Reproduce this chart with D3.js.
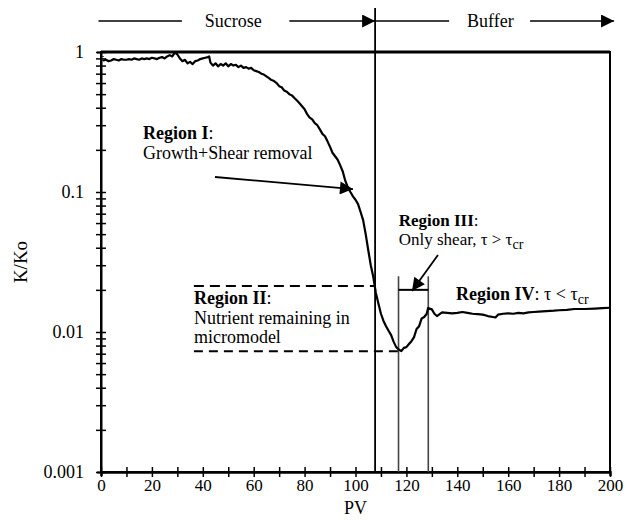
<!DOCTYPE html>
<html>
<head>
<meta charset="utf-8">
<script src="https://cdn.jsdelivr.net/npm/d3@7"></script>
<style>
  body { margin: 0; background: #fff; }
  svg text { font-family: "Liberation Serif", "Times New Roman", serif; fill: #000; }
</style>
</head>
<body>
<div id="chart"></div>
<script>
// ---- data ----
var pv = [0.8, 1, 2, 3, 4, 5, 6, 7, 8, 9, 10, 11, 12, 13, 14, 15, 16, 17, 18, 19, 20,
  21, 22, 23, 24, 25, 26, 27, 28, 29, 30, 31, 32, 33, 34, 35, 36, 37, 38, 39, 40,
  41, 42, 42.5, 43, 44, 45, 46, 47, 48, 49, 50, 51, 52, 53, 54, 55, 56, 57, 58, 59, 60,
  61, 62, 63, 64, 65, 66, 67, 68, 69, 70, 71, 72, 73, 74, 75, 76, 77, 78, 79, 80,
  81, 82, 83, 84, 85, 86, 87, 88, 89, 90, 91, 92, 93, 94, 95, 96, 97, 98, 99, 100,
  101, 102, 103, 104, 105, 106, 107, 108, 109, 110, 111, 112, 113, 114, 115, 116, 117, 118, 119, 120,
  121, 122, 123, 124, 125, 126, 127, 128, 128.5, 130, 131, 132, 134, 136, 138, 140,
  142, 144, 146, 148, 150, 152, 154, 155, 156, 158, 160, 162, 164, 166, 168, 170,
  172, 175, 178, 180, 183, 186, 190, 194, 197, 200];
var kko = [0.86, 0.87, 0.88, 0.86, 0.87, 0.89, 0.88, 0.87, 0.89, 0.88, 0.88, 0.89, 0.88, 0.9, 0.89, 0.88, 0.9, 0.89, 0.9, 0.89, 0.91,
  0.9, 0.89, 0.91, 0.92, 0.9, 0.93, 0.95, 0.93, 0.99, 0.96, 0.9, 0.86, 0.88, 0.83, 0.85, 0.82, 0.86, 0.87, 0.89, 0.9,
  0.91, 0.92, 0.93, 0.84, 0.8, 0.83, 0.79, 0.82, 0.8, 0.83, 0.79, 0.82, 0.8, 0.81, 0.78, 0.8, 0.77, 0.78, 0.76, 0.77, 0.74,
  0.73, 0.72, 0.7, 0.69, 0.67, 0.65, 0.63, 0.62, 0.6, 0.57, 0.56, 0.53, 0.52, 0.5, 0.49, 0.47, 0.45, 0.43, 0.41, 0.39,
  0.36, 0.34, 0.33, 0.31, 0.3, 0.28, 0.26, 0.25, 0.23, 0.21, 0.19, 0.18, 0.17, 0.155, 0.14, 0.12, 0.108, 0.1, 0.093, 0.088,
  0.082, 0.072, 0.063, 0.05, 0.0385, 0.03, 0.0247, 0.019, 0.016, 0.0135, 0.012, 0.011, 0.0102, 0.0095, 0.0085, 0.0078, 0.0075, 0.0073, 0.0077, 0.0078,
  0.0082, 0.0086, 0.0092, 0.0105, 0.011, 0.0125, 0.0128, 0.0135, 0.0148, 0.0145, 0.0135, 0.013, 0.0138, 0.0137, 0.0136, 0.0137,
  0.0139, 0.0137, 0.0135, 0.0134, 0.0133, 0.013, 0.0128, 0.0127, 0.0133, 0.0135, 0.0136, 0.0135, 0.0137, 0.0136, 0.0138, 0.0139,
  0.014, 0.0141, 0.0142, 0.0143, 0.0144, 0.0146, 0.0146, 0.0147, 0.0148, 0.0149];

var startDrop = [1, 0.87];          // dotted drop at PV ~0.8
var switchPV = 107.7;               // sucrose -> buffer
var region3PV = [116.9, 128.6];     // bracket of region III
var region2K = [0.0213, 0.0073];    // dashed levels of region II
var xTicks = d3.range(0, 201, 10);
var yDecades = [0.001, 0.01, 0.1, 1];

// ---- layout ----
var W = 627, H = 520;
var serif = "Liberation Serif";
var svg = d3.select("#chart").append("svg").attr("width", W).attr("height", H);

var x = d3.scaleLinear().domain([0, 200]).range([101, 610]);
var y = d3.scaleLog().domain([0.001, 1]).range([472, 52]);

svg.append("defs").append("marker")
  .attr("id", "head").attr("viewBox", "0 0 10 10")
  .attr("refX", 10).attr("refY", 5)
  .attr("markerWidth", 20).attr("markerHeight", 13)
  .attr("markerUnits", "userSpaceOnUse")
  .attr("orient", "auto")
  .append("path").attr("d", "M0,0 L10,5 L0,10 Z").attr("fill", "#000");

// box
svg.append("rect")
  .attr("x", x(0)).attr("y", y(1))
  .attr("width", x(200) - x(0)).attr("height", y(0.001) - y(1))
  .attr("fill", "none").attr("stroke", "#000").attr("stroke-width", 2);
svg.append("line")
  .attr("x1", x(0)).attr("x2", x(200)).attr("y1", y(1)).attr("y2", y(1))
  .attr("stroke", "#000").attr("stroke-width", 3);

// x axis
var xAxis = svg.append("g")
  .attr("transform", "translate(0," + y(0.001) + ")")
  .attr("font-family", serif).attr("font-size", 17)
  .call(d3.axisBottom(x).tickValues(xTicks).tickSize(4)
    .tickFormat(function (d) { return d % 20 === 0 ? d : ""; }));
xAxis.attr("font-family", serif).attr("font-size", 17);
xAxis.select(".domain").attr("stroke-width", 2.5);
xAxis.selectAll(".tick line").attr("y1", -5).attr("y2", 5).attr("stroke-width", 1.5);
xAxis.selectAll("text").attr("y", 7);

// y axis with minor ticks
var yTicks = [];
yDecades.slice(0, 3).forEach(function (d) {
  for (var k = 1; k < 10; k++) yTicks.push(d * k);
});
yTicks.push(1);
var yAxis = svg.append("g")
  .attr("transform", "translate(" + x(0) + ",0)")
  .call(d3.axisLeft(y).tickValues(yTicks).tickSize(4)
    .tickFormat(function (d) { return yDecades.some(function (v) { return Math.abs(v - d) < v * 1e-6; }) ? String(d) : ""; }));
yAxis.attr("font-family", serif).attr("font-size", 18);
yAxis.select(".domain").attr("stroke-width", 2);
yAxis.selectAll(".tick line").attr("x1", -5).attr("x2", 5).attr("stroke-width", 1.5);
yAxis.selectAll("text").attr("x", -17);

// axis titles
svg.append("text").attr("x", (x(0) + x(200)) / 2).attr("y", 514)
  .attr("text-anchor", "middle").style("font-size", "18px").text("PV");
svg.append("text").attr("transform", "translate(27,262) rotate(-90)")
  .attr("text-anchor", "middle").style("font-size", "19px").text("K/Ko");

// region lines
svg.append("line")
  .attr("x1", x(switchPV)).attr("x2", x(switchPV)).attr("y1", 8).attr("y2", y(0.001))
  .attr("stroke", "#000").attr("stroke-width", 1.8);
region3PV.forEach(function (p) {
  svg.append("line")
    .attr("x1", x(p)).attr("x2", x(p)).attr("y1", y(0.025)).attr("y2", y(0.001))
    .attr("stroke", "#444").attr("stroke-width", 1.6);
});
svg.append("line")
  .attr("x1", x(region3PV[0])).attr("x2", x(region3PV[1])).attr("y1", y(0.02)).attr("y2", y(0.02))
  .attr("stroke", "#000").attr("stroke-width", 2);

// region II dashed levels
svg.append("line")
  .attr("x1", x(36.5)).attr("x2", x(switchPV)).attr("y1", y(region2K[0])).attr("y2", y(region2K[0]))
  .attr("stroke", "#000").attr("stroke-width", 2).attr("stroke-dasharray", "10,6");
svg.append("line")
  .attr("x1", x(36.5)).attr("x2", x(region3PV[0])).attr("y1", y(region2K[1])).attr("y2", y(region2K[1]))
  .attr("stroke", "#000").attr("stroke-width", 2).attr("stroke-dasharray", "9,6");

// curve
svg.append("line")
  .attr("x1", x(0.8)).attr("x2", x(0.8)).attr("y1", y(startDrop[0])).attr("y2", y(startDrop[1]))
  .attr("stroke", "#000").attr("stroke-width", 1.2).attr("stroke-dasharray", "1,3");
var line = d3.line().x(function (d) { return x(d[0]); }).y(function (d) { return y(d[1]); });
svg.append("path")
  .datum(pv.map(function (p, i) { return [p, kko[i]]; }))
  .attr("d", line).attr("fill", "none").attr("stroke", "#000").attr("stroke-width", 2.2)
  .attr("stroke-linejoin", "round");

// header arrows
var hy = 21;
function hline(a, b, arrow) {
  var l = svg.append("line").attr("x1", x(a)).attr("x2", x(b)).attr("y1", hy).attr("y2", hy)
    .attr("stroke", "#000").attr("stroke-width", 1.5);
  if (arrow) l.attr("marker-end", "url(#head)");
}
hline(-1, 31.8, false);
hline(74, switchPV, true);
hline(switchPV, 136.8, false);
hline(168.6, 201.6, true);
svg.append("text").attr("x", x(52)).attr("y", 27).attr("text-anchor", "middle")
  .style("font-size", "18px").text("Sucrose");
svg.append("text").attr("x", x(153)).attr("y", 27).attr("text-anchor", "middle")
  .style("font-size", "18px").text("Buffer");

// annotations
function label(px, py, bold, rest, fs) {
  var t = svg.append("text").attr("x", x(px)).attr("y", py).style("font-size", (fs || 18) + "px");
  t.append("tspan").attr("font-weight", "bold").text(bold);
  t.append("tspan").text(rest);
  return t;
}
function plain(px, py, s, fs) {
  return svg.append("text").attr("x", x(px)).attr("y", py).style("font-size", (fs || 18) + "px").text(s);
}
function tauLine(t, op) {
  t.append("tspan").text(" \u03c4 " + op + " \u03c4");
  t.append("tspan").attr("dy", 4).style("font-size", "14px").text("cr");
}

label(16.5, 139, "Region I", ":");
plain(16.5, 159, "Growth+Shear removal");
svg.append("line")
  .attr("x1", x(44.8)).attr("y1", y(0.128)).attr("x2", x(99)).attr("y2", y(0.105))
  .attr("stroke", "#000").attr("stroke-width", 1.8).attr("marker-end", "url(#head)");

label(36.5, 304, "Region II", ":");
plain(36.5, 324, "Nutrient remaining in");
plain(36.5, 343, "micromodel");

label(117, 226, "Region III", ":", 17);
var t3 = plain(117, 245, "Only shear,", 17);
tauLine(t3, ">");
svg.append("line")
  .attr("x1", x(132.4)).attr("y1", y(0.0355)).attr("x2", x(122.2)).attr("y2", y(0.0196))
  .attr("stroke", "#000").attr("stroke-width", 1.8).attr("marker-end", "url(#head)");

var t4 = label(139.5, 300, "Region IV", ":");
tauLine(t4, "<");
</script>
</body>
</html>
